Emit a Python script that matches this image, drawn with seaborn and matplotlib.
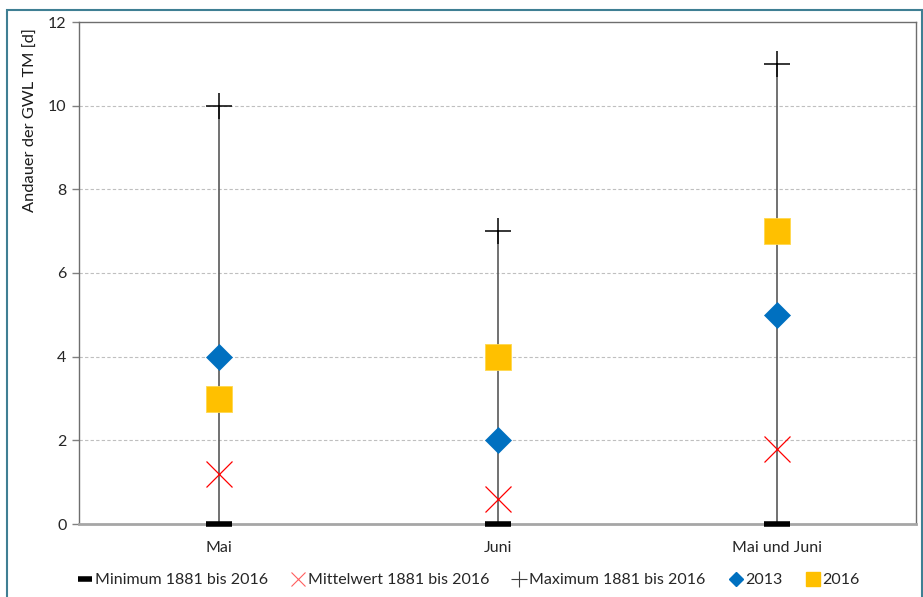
import matplotlib
matplotlib.use("Agg")
import matplotlib.pyplot as plt
import seaborn as sns
import pandas as pd
from matplotlib.patches import Rectangle
from matplotlib.lines import Line2D

categories = ["Mai", "Juni", "Mai und Juni"]
minimum = [0, 0, 0]
mittelwert = [1.2, 0.6, 1.8]
maximum = [10, 7, 11]
y2013 = [4, 2, 5]
y2016 = [3, 4, 7]
yticks = [0, 2, 4, 6, 8, 10, 12]

sns.set_theme(style="white")
plt.rcParams["font.family"] = ["Lato", "DejaVu Sans"]

df = pd.DataFrame({"cat": categories, "min": minimum, "mean": mittelwert,
                   "max": maximum, "y2013": y2013, "y2016": y2016})
df["x"] = range(len(categories))

fig = plt.figure(figsize=(9.23, 5.97), dpi=100)
ax = fig.add_axes([79 / 923, 1 - 524 / 597, (916 - 79) / 923, (524 - 22) / 597])

# high-low lines
ax.vlines(df["x"], df["min"], df["max"], color="#595959", lw=1.2, zorder=2)

sns.scatterplot(data=df, x="x", y="min", marker="_", s=350, linewidth=4,
                color="black", ax=ax, zorder=6, legend=False, clip_on=False)
sns.scatterplot(data=df, x="x", y="mean", marker="x", s=350, linewidth=0.9,
                color="#FF0000", ax=ax, zorder=4, legend=False)
sns.scatterplot(data=df, x="x", y="max", marker="+", s=350, linewidth=1.1,
                color="black", ax=ax, zorder=4, legend=False)
sns.scatterplot(data=df, x="x", y="y2013", marker="D", s=175, linewidth=0.5,
                color="#0070C0", edgecolor="#0070C0", ax=ax, zorder=5, legend=False)
sns.scatterplot(data=df, x="x", y="y2016", marker="s", s=360, linewidth=0.6,
                color="#FFC000", edgecolor="#FFD84D", ax=ax, zorder=5, legend=False)

ax.set_xlim(-0.5, 2.5)
ax.set_ylim(0, 12)
ax.set_xticks(df["x"])
ax.set_xticklabels(categories, fontsize=11.5, color="#262626")
ax.set_yticks(yticks)
ax.set_yticklabels([str(t) for t in yticks], fontsize=11.5, color="#262626")
ax.set_xlabel("")
ax.set_ylabel("")
ax.tick_params(axis="x", length=0, pad=12)
ax.tick_params(axis="y", length=5, width=1, color="#808080", left=True, direction="out", pad=4)
for yv in yticks[1:-1]:
    ax.axhline(yv, color="#BFBFBF", lw=0.8, ls=(0, (3, 2)), zorder=1)
for s in ["top", "right", "left"]:
    ax.spines[s].set_color("#6E6E6E")
    ax.spines[s].set_linewidth(1)
ax.spines["bottom"].set_color("#A6A6A6")
ax.spines["bottom"].set_linewidth(2)

fig.text(31 / 923, 1 - 28 / 597, "Andauer der GWL TM [d]", rotation=90,
         va="top", ha="center", fontsize=11.8, color="#1a1a1a")

handles = [
    Line2D([], [], ls="none", marker="_", ms=10, mew=4, color="black"),
    Line2D([], [], ls="none", marker="x", ms=10, mew=0.8, color="#FF6060"),
    Line2D([], [], ls="none", marker="+", ms=11, mew=0.8, color="#404040"),
    Line2D([], [], ls="none", marker="D", ms=7, color="#0070C0"),
    Line2D([], [], ls="none", marker="s", ms=10, color="#FFC000"),
]
labels = ["Minimum 1881 bis 2016", "Mittelwert 1881 bis 2016",
          "Maximum 1881 bis 2016", "2013", "2016"]
fig.legend(handles, labels, loc="center", bbox_to_anchor=(470 / 923, 1 - 580 / 597),
           ncol=5, frameon=False, fontsize=11.5, handlelength=0.6,
           handletextpad=0.3, columnspacing=1.6)

fig.patches.append(Rectangle((7 / 923, -0.05), (922 - 7) / 923, 1.05 - 10 / 597,
                             transform=fig.transFigure, fill=False,
                             edgecolor="#3F7F93", lw=1.5))

fig.savefig("out.png", dpi=100)
